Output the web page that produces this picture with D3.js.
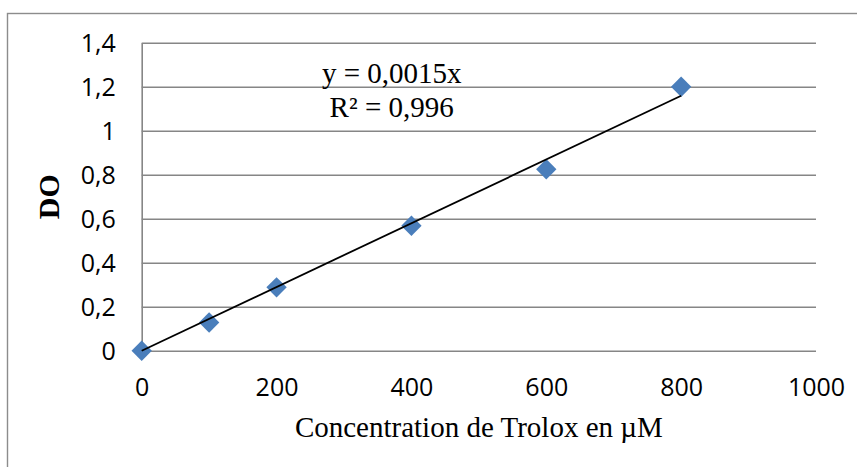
<!DOCTYPE html>
<html>
<head>
<meta charset="utf-8">
<script src="https://cdn.jsdelivr.net/npm/d3@7"></script>
<style>
  body { margin: 0; background: #fff; }
</style>
</head>
<body>
<div id="chart"></div>
<script>
// values
const concentrations = [0, 100, 200, 400, 600, 800];
const absorbances = [0, 0.128, 0.288, 0.568, 0.825, 1.2];
const xTicks = [0, 200, 400, 600, 800, 1000];
const yTicks = [0, 0.2, 0.4, 0.6, 0.8, 1, 1.2, 1.4];
const equationLines = ["y = 0,0015x", "R\u00b2 = 0,996"];
const xTitle = "Concentration de Trolox en \u00b5M";
const yTitle = "DO";

var W = 857, H = 467;
var margin = {top: 42.7, right: 41, bottom: 116.3, left: 141.7},
    width = W - margin.left - margin.right,
    height = H - margin.top - margin.bottom;

const fr = d3.formatLocale({decimal: ",", thousands: " ", grouping: [3], currency: ["", ""]});

const svg = d3.select('#chart')
    .append('svg')
    .attr('width', W)
    .attr('height', H);

// outer chart border (right/bottom edges fall outside the picture)
svg.append('rect')
    .attr('x', 7.5).attr('y', 13.5)
    .attr('width', 900).attr('height', 500)
    .attr('fill', 'none')
    .attr('stroke', '#8c8c8c')
    .attr('stroke-width', 1.4);

const g = svg.append('g')
    .attr('transform', `translate(${margin.left},${margin.top})`);

const x = d3.scaleLinear().domain([0, 1000]).range([0, width]);
const y = d3.scaleLinear().domain([0, 1.4]).range([height, 0]);

function styleLabels(sel) {
    sel.attr('font-family', '"Open Sans", sans-serif')
        .attr('font-size', 25)
        .selectAll('text')
        .attr('fill', '#000');
}

// y axis + horizontal gridlines
const yAxis = d3.axisLeft(y)
    .tickValues(yTicks)
    .tickSize(-width)
    .tickSizeOuter(0)
    .tickPadding(26)
    .tickFormat(d => fr.format("~g")(d));

g.append('g')
    .call(yAxis)
    .call(styleLabels)
    .call(a => a.selectAll('line').attr('stroke', '#868686').attr('stroke-width', 1.6))
    .call(a => a.select('.domain').attr('stroke', '#868686').attr('stroke-width', 1.6))
    .selectAll('text')
    .attr('dy', '0.36em');

// x axis labels only
const xAxis = d3.axisBottom(x)
    .tickValues(xTicks)
    .tickSize(0)
    .tickFormat(d => d);

g.append('g')
    .attr('transform', `translate(0,${height})`)
    .call(xAxis)
    .call(styleLabels)
    .call(a => a.select('.domain').remove())
    .selectAll('text')
    .attr('y', 45)
    .attr('dy', null);

// markers
const pts = concentrations.map((c, i) => ({x: c, y: absorbances[i]}));
g.append('g')
    .selectAll('path')
    .data(pts)
    .enter().append('path')
    .attr('transform', d => `translate(${x(d.x)},${y(d.y)}) rotate(45)`)
    .attr('d', 'M-7.2,-7.2H7.2V7.2H-7.2Z')
    .attr('fill', '#4a7ebb');

// linear trend through origin
const slope = d3.sum(pts, d => d.x * d.y) / d3.sum(pts, d => d.x * d.x);
const xMax = d3.max(concentrations);
g.append('line')
    .attr('x1', x(0)).attr('y1', y(0))
    .attr('x2', x(xMax)).attr('y2', y(slope * xMax))
    .attr('stroke', '#000')
    .attr('stroke-width', 1.8);

// equation
g.append('g')
    .selectAll('text')
    .data(equationLines)
    .enter().append('text')
    .attr('x', 250)
    .attr('y', (d, i) => 40.5 + i * 33.5)
    .attr('text-anchor', 'middle')
    .style('font-family', '"Liberation Serif", "Times New Roman", serif')
    .style('font-size', '29px')
    .text(d => d);

// axis titles
svg.append('text')
    .attr('x', margin.left + width / 2)
    .attr('y', 437)
    .attr('text-anchor', 'middle')
    .style('font-family', '"Liberation Serif", "Times New Roman", serif')
    .style('font-size', '29px')
    .text(xTitle);

svg.append('text')
    .attr('transform', `translate(59,${margin.top + height / 2}) rotate(-90)`)
    .attr('text-anchor', 'middle')
    .style('font-family', '"Liberation Serif", "Times New Roman", serif')
    .style('font-size', '30px')
    .style('font-weight', 'bold')
    .text(yTitle);
</script>
</body>
</html>
